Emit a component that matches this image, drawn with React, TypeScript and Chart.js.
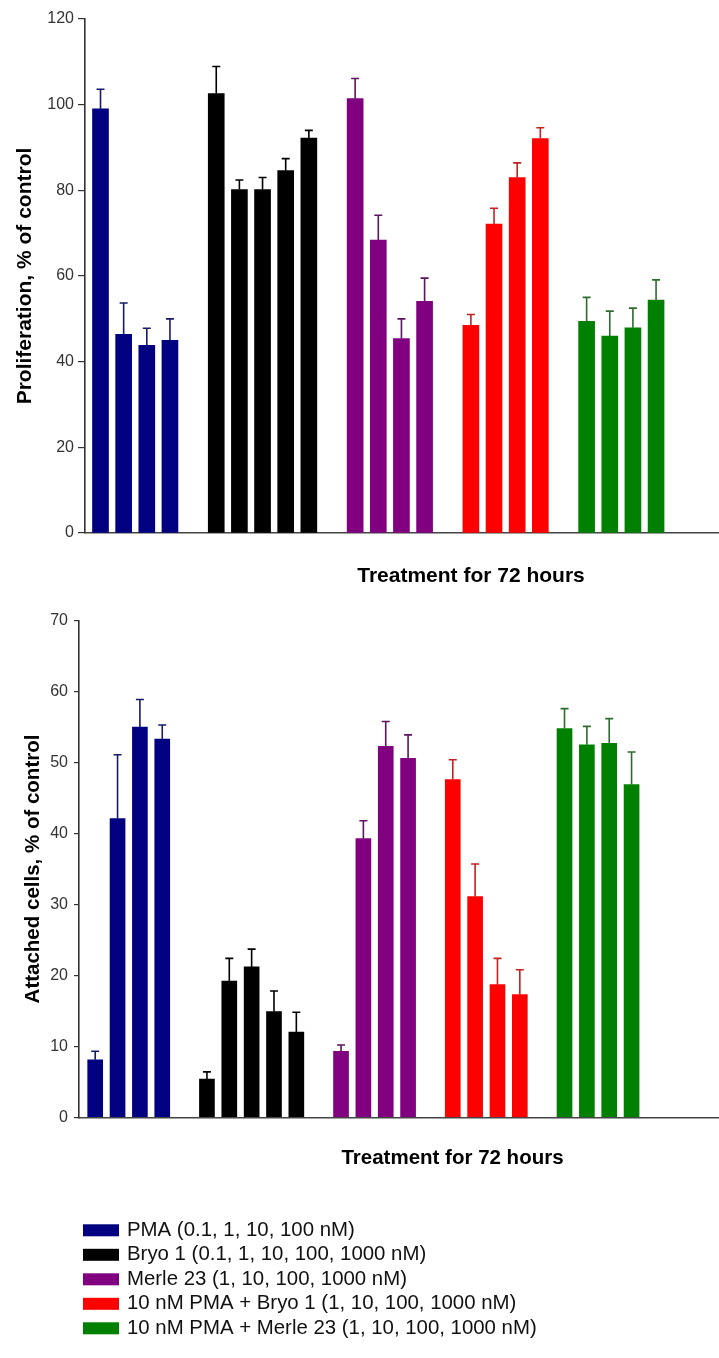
import { useEffect, useRef } from 'react';
import { Chart, registerables } from 'chart.js';

Chart.register(...registerables);

const FONT = 'Arial, "Liberation Sans", Helvetica, sans-serif';

// Series (legend) labels and colours
const seriesLabels = [
  'PMA (0.1, 1, 10, 100 nM)',
  'Bryo 1 (0.1, 1, 10, 100, 1000 nM)',
  'Merle 23 (1, 10, 100, 1000 nM)',
  '10 nM PMA + Bryo 1 (1, 10, 100, 1000 nM)',
  '10 nM PMA + Merle 23 (1, 10, 100, 1000 nM)',
];
const seriesColors = ['#000080', '#000000', '#800080', '#ff0000', '#008000'];
const errorColors = ['#1a1a6a', '#000000', '#5e145e', '#c42020', '#2e6b2e'];

// Doses (categories inside each group)
const pmaDoses = ['0.1', '1', '10', '100'];
const bryoDoses = ['0.1', '1', '10', '100', '1000'];
const merleDoses = ['1', '10', '100', '1000'];
const pmaBryoDoses = ['1', '10', '100', '1000'];
const pmaMerleDoses = ['1', '10', '100', '1000'];
const groupDoses = [pmaDoses, bryoDoses, merleDoses, pmaBryoDoses, pmaMerleDoses];

// Proliferation, % of control
const prolifPMA = [99.0, 46.4, 43.8, 45.0];
const prolifPMAErr = [4.6, 7.3, 4.0, 5.0];
const prolifBryo = [102.6, 80.2, 80.2, 84.6, 92.2];
const prolifBryoErr = [6.3, 2.2, 2.8, 2.8, 1.8];
const prolifMerle = [101.4, 68.4, 45.4, 54.1];
const prolifMerleErr = [4.7, 5.8, 4.6, 5.4];
const prolifPMABryo = [48.5, 72.1, 83.0, 92.1];
const prolifPMABryoErr = [2.5, 3.7, 3.4, 2.5];
const prolifPMAMerle = [49.4, 46.0, 47.9, 54.4];
const prolifPMAMerleErr = [5.6, 5.8, 4.6, 4.7];

// Attached cells, % of control
const attachPMA = [8.1, 42.1, 55.0, 53.3];
const attachPMAErr = [1.2, 9.0, 3.9, 2.0];
const attachBryo = [5.4, 19.2, 21.2, 14.9, 12.0];
const attachBryoErr = [1.0, 3.2, 2.5, 2.9, 2.8];
const attachMerle = [9.3, 39.3, 52.3, 50.6];
const attachMerleErr = [0.9, 2.5, 3.5, 3.3];
const attachPMABryo = [47.6, 31.1, 18.7, 17.3];
const attachPMABryoErr = [2.8, 4.6, 3.7, 3.5];
const attachPMAMerle = [54.8, 52.5, 52.7, 46.9];
const attachPMAMerleErr = [2.8, 2.6, 3.5, 4.6];

// Axis ticks
const prolifTicks = { min: 0, max: 120, step: 20 };
const attachTicks = { min: 0, max: 70, step: 10 };

const xTitle = 'Treatment for 72 hours';
const prolifTitle = 'Proliferation, % of control';
const attachTitle = 'Attached cells, % of control';

function buildDatasets(values: number[][], errors: number[][], thickness: number) {
  let start = 0;
  return seriesLabels.map((label, k) => {
    const vals = values[k];
    const ds: any = {
      label,
      backgroundColor: seriesColors[k],
      borderWidth: 0,
      barThickness: thickness,
      grouped: false,
      data: vals.map((v, i) => ({ x: start + i, y: v, dose: groupDoses[k][i] })),
      errors: errors[k],
      errorColor: errorColors[k],
    };
    start += vals.length + 1;
    return ds;
  });
}

const errorBarPlugin = {
  id: 'errorBars',
  afterDatasetsDraw(chart: any) {
    const ctx = chart.ctx;
    const yScale = chart.scales.y;
    chart.data.datasets.forEach((ds: any, i: number) => {
      const meta = chart.getDatasetMeta(i);
      meta.data.forEach((bar: any, j: number) => {
        const v = ds.data[j].y;
        const e = ds.errors[j];
        const yTop = yScale.getPixelForValue(v + e);
        ctx.save();
        ctx.strokeStyle = ds.errorColor;
        ctx.lineWidth = 1.6;
        ctx.beginPath();
        ctx.moveTo(bar.x, bar.y);
        ctx.lineTo(bar.x, yTop);
        ctx.moveTo(bar.x - 4, yTop);
        ctx.lineTo(bar.x + 4, yTop);
        ctx.stroke();
        ctx.restore();
      });
    });
  },
};

const legendPlugin = {
  id: 'stackedLegend',
  afterDraw(chart: any) {
    const ctx = chart.ctx;
    const xs = chart.scales.x;
    const base = xs.bottom + 45;
    const left = chart.chartArea.left + 4;
    ctx.save();
    ctx.font = `20.4px ${FONT}`;
    ctx.textBaseline = 'middle';
    ctx.textAlign = 'left';
    chart.data.datasets.forEach((ds: any, i: number) => {
      const cy = base + i * 24.5;
      ctx.fillStyle = ds.backgroundColor;
      ctx.fillRect(left, cy - 6, 36, 12);
      ctx.fillStyle = '#111111';
      ctx.fillText(ds.label, left + 44, cy);
    });
    ctx.restore();
  },
};

function makeOptions(p: {
  xMin: number; xMax: number; yt: { min: number; max: number; step: number };
  yTitle: string; yTitleSize: number; yTitlePad: number; yWidth: number;
  xTitleSize: number; xTitlePad: number; xHeight: number;
  tickLen: number; tickPad: number; padTop: number; padBottom: number;
}) {
  return {
    animation: false,
    responsive: true,
    maintainAspectRatio: false,
    layout: { padding: { top: p.padTop, left: 0, right: 0, bottom: p.padBottom } },
    plugins: { legend: { display: false }, tooltip: { enabled: false } },
    scales: {
      x: {
        type: 'linear',
        offset: false,
        min: p.xMin,
        max: p.xMax,
        ticks: { display: false },
        grid: { display: false },
        border: { display: true, color: '#444444', width: 1.6 },
        title: {
          display: true,
          text: xTitle,
          color: '#000000',
          font: { family: FONT, size: p.xTitleSize, weight: 'bold' },
          padding: { top: 0, bottom: p.xTitlePad },
        },
        afterFit: (s: any) => { s.height = p.xHeight; },
      },
      y: {
        min: p.yt.min,
        max: p.yt.max,
        ticks: { stepSize: p.yt.step, color: '#333333', padding: p.tickPad, font: { family: FONT, size: 16 } },
        grid: { drawOnChartArea: false, drawTicks: true, tickLength: p.tickLen, color: '#333333', lineWidth: 1.2 },
        border: { display: true, color: '#333333', width: 1.6 },
        title: {
          display: true,
          text: p.yTitle,
          color: '#000000',
          font: { family: FONT, size: p.yTitleSize, weight: 'bold' },
          padding: { top: p.yTitlePad, bottom: 0 },
        },
        afterFit: (s: any) => { s.width = p.yWidth; },
      },
    },
  };
}

export default function App() {
  const topRef = useRef<HTMLCanvasElement | null>(null);
  const botRef = useRef<HTMLCanvasElement | null>(null);

  useEffect(() => {
    document.body.style.margin = '0';
    Chart.defaults.font.family = FONT;

    const top = new Chart(topRef.current as HTMLCanvasElement, {
      type: 'bar',
      data: {
        datasets: buildDatasets(
          [prolifPMA, prolifBryo, prolifMerle, prolifPMABryo, prolifPMAMerle],
          [prolifPMAErr, prolifBryoErr, prolifMerleErr, prolifPMABryoErr, prolifPMAMerleErr],
          16,
        ),
      },
      options: makeOptions({
        xMin: -0.67, xMax: 32.68, yt: prolifTicks,
        yTitle: prolifTitle, yTitleSize: 21, yTitlePad: 12.4, yWidth: 85,
        xTitleSize: 21, xTitlePad: 11.4, xHeight: 67,
        tickLen: 7, tickPad: 4, padTop: 19, padBottom: 0,
      }) as any,
      plugins: [errorBarPlugin],
    });

    const bottom = new Chart(botRef.current as HTMLCanvasElement, {
      type: 'bar',
      data: {
        datasets: buildDatasets(
          [attachPMA, attachBryo, attachMerle, attachPMABryo, attachPMAMerle],
          [attachPMAErr, attachBryoErr, attachMerleErr, attachPMABryoErr, attachPMAMerleErr],
          15,
        ),
      },
      options: makeOptions({
        xMin: -0.725, xMax: 32.7, yt: attachTicks,
        yTitle: attachTitle, yTitleSize: 20.5, yTitlePad: 21, yWidth: 79,
        xTitleSize: 20.5, xTitlePad: 15, xHeight: 68,
        tickLen: 5, tickPad: 6, padTop: 20.7, padBottom: 172.7,
      }) as any,
      plugins: [errorBarPlugin, legendPlugin],
    });

    return () => {
      top.destroy();
      bottom.destroy();
    };
  }, []);

  return (
    <div style={{ width: 719, height: 1358, overflow: 'hidden', background: '#ffffff' }}>
      <div style={{ position: 'relative', width: 857, height: 600 }}>
        <canvas ref={topRef} />
      </div>
      <div style={{ position: 'relative', width: 826, height: 758 }}>
        <canvas ref={botRef} />
      </div>
    </div>
  );
}
